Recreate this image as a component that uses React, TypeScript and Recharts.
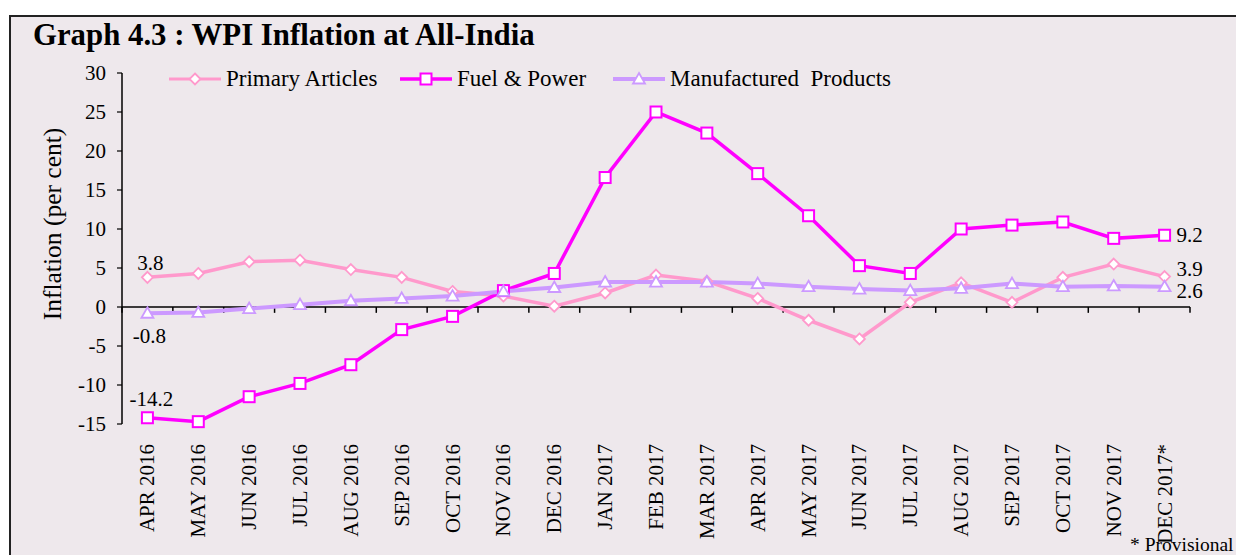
import React from 'react';
import { LineChart, Line, XAxis, YAxis, ReferenceLine, Legend, LabelList } from 'recharts';

const months = [
  'APR 2016', 'MAY 2016', 'JUN 2016', 'JUL 2016', 'AUG 2016', 'SEP 2016', 'OCT 2016',
  'NOV 2016', 'DEC 2016', 'JAN 2017', 'FEB 2017', 'MAR 2017', 'APR 2017', 'MAY 2017',
  'JUN 2017', 'JUL 2017', 'AUG 2017', 'SEP 2017', 'OCT 2017', 'NOV 2017', 'DEC 2017*',
];
const primaryArticles = [3.8, 4.3, 5.8, 6.0, 4.8, 3.8, 2.0, 1.4, 0.1, 1.8, 4.1, 3.3, 1.1, -1.7, -4.1, 0.6, 3.1, 0.6, 3.8, 5.5, 3.9];
const fuelPower = [-14.2, -14.7, -11.5, -9.8, -7.4, -2.9, -1.2, 2.1, 4.3, 16.6, 25.0, 22.3, 17.1, 11.7, 5.3, 4.3, 10.0, 10.5, 10.9, 8.8, 9.2];
const manufactured = [-0.8, -0.7, -0.2, 0.3, 0.8, 1.1, 1.4, 2.0, 2.5, 3.2, 3.2, 3.2, 3.0, 2.6, 2.3, 2.1, 2.4, 3.0, 2.6, 2.7, 2.6];
const yTicks = [-15, -10, -5, 0, 5, 10, 15, 20, 25, 30];

const data = months.map((m, i) => ({
  idx: i,
  month: m,
  primary: primaryArticles[i],
  fuel: fuelPower[i],
  manuf: manufactured[i],
}));

const monthTicks = months.map((_, i) => i);
const boundaries = months.map((_, i) => i - 0.5).concat([months.length - 0.5]);

const FONT = '"Liberation Serif", "Times New Roman", serif';
const PINK = '#FF99CC';
const MAGENTA = '#FF00FF';
const LAVENDER = '#CC99FF';
const BG = '#EEE8EC';

function Diamond({ cx, cy, color }: any) {
  const r = 5.5;
  return (
    <polygon
      points={`${cx},${cy - r} ${cx + r},${cy} ${cx},${cy + r} ${cx - r},${cy}`}
      fill="#fff"
      stroke={color}
      strokeWidth={1.8}
    />
  );
}
function Square({ cx, cy, color }: any) {
  const s = 5.5;
  return <rect x={cx - s} y={cy - s} width={2 * s} height={2 * s} fill="#fff" stroke={color} strokeWidth={2} />;
}
function Triangle({ cx, cy, color }: any) {
  const r = 6;
  return (
    <polygon
      points={`${cx},${cy - r} ${cx + r},${cy + r * 0.75} ${cx - r},${cy + r * 0.75}`}
      fill="#fff"
      stroke={color}
      strokeWidth={1.8}
    />
  );
}

const makeDot = (Shape: any, color: string) => (props: any) => {
  const { cx, cy, index } = props;
  if (cx == null || cy == null) return <g key={`d${index}`} />;
  return <Shape key={`d${index}`} cx={cx} cy={cy} color={color} />;
};

const makeEndLabel = (first: { dx: number; dy: number; anchor: string }, last: { dx: number; dy: number; anchor: string }) =>
  (props: any) => {
    const { x, y, value, index } = props;
    let cfg: any = null;
    if (index === 0) cfg = first;
    else if (index === months.length - 1) cfg = last;
    if (!cfg) return null;
    return (
      <text
        x={x + cfg.dx}
        y={y + cfg.dy}
        textAnchor={cfg.anchor}
        dominantBaseline="central"
        fontFamily={FONT}
        fontSize={21}
        fill="#000"
      >
        {Number(value).toFixed(1)}
      </text>
    );
  };

const legendItems = [
  { name: 'Primary Articles', color: PINK, Shape: Diamond, width: 3, left: 0 },
  { name: 'Fuel & Power', color: MAGENTA, Shape: Square, width: 3.5, left: 231 },
  { name: 'Manufactured\u00A0 Products', color: LAVENDER, Shape: Triangle, width: 4, left: 444 },
];

function LegendContent() {
  return (
    <div style={{ position: 'relative', height: 26, width: 760 }}>
      {legendItems.map((it) => (
        <div
          key={it.name}
          style={{ position: 'absolute', left: it.left, top: 0, display: 'flex', alignItems: 'center', whiteSpace: 'nowrap' }}
        >
          <svg width={54} height={26}>
            <line x1={1} y1={13} x2={53} y2={13} stroke={it.color} strokeWidth={it.width} />
            <it.Shape cx={27} cy={13} color={it.color} />
          </svg>
          <span style={{ fontFamily: FONT, fontSize: 23, color: '#000', marginLeft: 4, lineHeight: '26px' }}>{it.name}</span>
        </div>
      ))}
    </div>
  );
}

function XTick(props: any) {
  const { x, y, payload } = props;
  return (
    <text
      x={0}
      y={0}
      transform={`translate(${x + 7},${y + 12}) rotate(-90)`}
      textAnchor="end"
      fontFamily={FONT}
      fontSize={21}
      fill="#000"
    >
      {months[payload.value]}
    </text>
  );
}

function YLabel(props: any) {
  const { viewBox } = props;
  const cx = viewBox.x - 10;
  const cy = viewBox.y + 151;
  return (
    <text
      x={0}
      y={0}
      transform={`translate(${cx},${cy}) rotate(-90)`}
      textAnchor="middle"
      dominantBaseline="central"
      fontFamily={FONT}
      fontSize={25.5}
      fill="#000"
    >
      Inflation (per cent)
    </text>
  );
}

export default function App() {
  return (
    <div style={{ position: 'absolute', left: 0, top: 0, width: 1236, height: 555, overflow: 'hidden', background: '#fff' }}>
      <div
        style={{
          position: 'absolute',
          left: 9,
          top: 15,
          width: 1260,
          height: 580,
          border: '2px solid #222',
          background: BG,
          boxSizing: 'border-box',
        }}
      />
      <div
        style={{
          position: 'absolute',
          left: 33,
          top: 17,
          fontFamily: FONT,
          fontWeight: 'bold',
          fontSize: 30.8,
          lineHeight: '36px',
          color: '#000',
          whiteSpace: 'nowrap',
        }}
      >
        Graph 4.3 : WPI Inflation at All-India
      </div>
      <div
        style={{
          position: 'absolute',
          left: 1130,
          top: 534,
          fontFamily: FONT,
          fontSize: 19.5,
          lineHeight: '22px',
          color: '#000',
          whiteSpace: 'nowrap',
        }}
      >
        * Provisional
      </div>
      <div style={{ position: 'absolute', left: 0, top: 0 }}>
        <LineChart width={1236} height={555} data={data} margin={{ top: 73, right: 46, bottom: 11, left: 62 }}>
          <XAxis
            dataKey="idx"
            type="number"
            domain={[-0.5, months.length - 0.5]}
            ticks={monthTicks}
            interval={0}
            axisLine={false}
            tickLine={false}
            height={120}
            tick={<XTick />}
          />
          <YAxis
            domain={[-15, 30]}
            ticks={yTicks}
            interval={0}
            width={60}
            axisLine={{ stroke: '#000', strokeWidth: 1.5 }}
            tickLine={{ stroke: '#000', strokeWidth: 1.2 }}
            tickSize={5}
            tickMargin={11}
            tick={{ fontFamily: FONT, fontSize: 21, fill: '#000' }}
            label={<YLabel />}
          />
          <ReferenceLine y={0} stroke="#000" strokeWidth={1.5} />
          {boundaries.map((b) => (
            <ReferenceLine
              key={`t${b}`}
              segment={[{ x: b, y: 0 }, { x: b, y: -0.75 }]}
              stroke="#000"
              strokeWidth={1.5}
              ifOverflow="visible"
            />
          ))}
          <Legend
            layout="horizontal"
            verticalAlign="middle"
            align="center"
            content={<LegendContent />}
            wrapperStyle={{ top: 66, left: 168, width: 760 }}
          />
          <Line
            dataKey="primary"
            name="Primary Articles"
            stroke={PINK}
            strokeWidth={3.5}
            dot={makeDot(Diamond, PINK)}
            activeDot={false}
            isAnimationActive={false}
          >
            <LabelList
              dataKey="primary"
              content={makeEndLabel({ dx: 3, dy: -14, anchor: 'middle' }, { dx: 12, dy: -8, anchor: 'start' })}
            />
          </Line>
          <Line
            dataKey="fuel"
            name="Fuel & Power"
            stroke={MAGENTA}
            strokeWidth={3.5}
            dot={makeDot(Square, MAGENTA)}
            activeDot={false}
            isAnimationActive={false}
          >
            <LabelList
              dataKey="fuel"
              content={makeEndLabel({ dx: 4, dy: -19, anchor: 'middle' }, { dx: 12, dy: 0, anchor: 'start' })}
            />
          </Line>
          <Line
            dataKey="manuf"
            name="Manufactured Products"
            stroke={LAVENDER}
            strokeWidth={4}
            dot={makeDot(Triangle, LAVENDER)}
            activeDot={false}
            isAnimationActive={false}
          >
            <LabelList
              dataKey="manuf"
              content={makeEndLabel({ dx: 2, dy: 23, anchor: 'middle' }, { dx: 12, dy: 4, anchor: 'start' })}
            />
          </Line>
        </LineChart>
      </div>
    </div>
  );
}
